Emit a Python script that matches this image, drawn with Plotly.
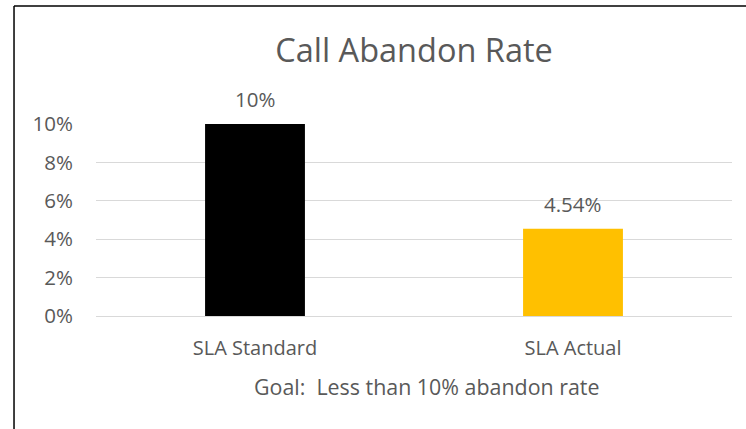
import plotly.graph_objects as go

categories = ["SLA Standard", "SLA Actual"]
values = [0.10, 0.0454]
value_labels = ["10%", "4.54%"]
bar_colors = ["#000000", "#FFC000"]
title_text = "Call Abandon Rate"
x_title = "Goal:  Less than 10% abandon rate"

FONT = "Open Sans, sans-serif"
GREY = "#595959"

fig = go.Figure(go.Bar(
    x=categories, y=values, marker_color=bar_colors, marker_line_width=0,
    hoverinfo="skip",
))

for c, v, t in zip(categories, values, value_labels):
    fig.add_annotation(x=c, y=v, text=t, showarrow=False, yanchor="middle",
                       yshift=25, font=dict(family=FONT, size=20.5, color=GREY))

fig.add_annotation(xref="paper", yref="paper", x=0.519, y=-0.365, text=x_title,
                   showarrow=False, yanchor="middle",
                   font=dict(family=FONT, size=21.4, color=GREY))

# chart-area frame: only the left and top edges fall inside the picture
fig.add_shape(type="line", xref="paper", yref="paper",
              x0=-0.1289, x1=-0.1289, y0=-0.7, y1=1.6146,
              line=dict(color="#000000", width=1.5))
fig.add_shape(type="line", xref="paper", yref="paper",
              x0=-0.1289, x1=1.1, y0=1.6146, y1=1.6146,
              line=dict(color="#000000", width=1.5))

fig.update_layout(
    width=746, height=429,
    margin=dict(l=96, r=14, t=124, b=113),
    paper_bgcolor="white", plot_bgcolor="white",
    bargap=0.686,
    showlegend=False,
    title=dict(text=title_text, x=0.5, xref="paper", xanchor="center",
               y=1 - 51 / 429, yanchor="middle",
               font=dict(family=FONT, size=32.5, color=GREY)),
    font=dict(family=FONT, color=GREY),
)
fig.update_yaxes(range=[0, 0.1], tickvals=[0, 0.02, 0.04, 0.06, 0.08, 0.10],
                 tickformat=".0%", showgrid=True, gridcolor="#d9d9d9", gridwidth=1,
                 zeroline=False, showline=False, ticks="", ticklabelstandoff=22,
                 tickfont=dict(family=FONT, size=20.5, color=GREY))
fig.update_xaxes(showline=True, linecolor="#d9d9d9", linewidth=1, ticks="",
                 ticklabelstandoff=14, showgrid=False,
                 tickfont=dict(family=FONT, size=20, color=GREY))

fig.write_html("out.html", config={"displayModeBar": False},
               post_script="document.body.style.margin='0';document.body.style.overflow='hidden';")
